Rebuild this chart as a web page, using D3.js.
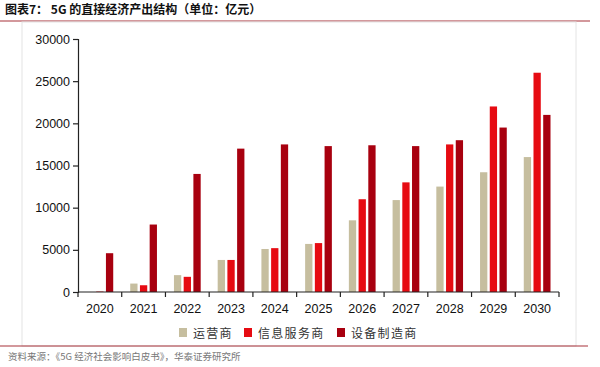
<!DOCTYPE html>
<meta charset="utf-8">
<style>
body { margin: 0; background: #fff; }
svg { display: block; font-family: 'Noto Sans', 'Noto Sans CJK SC', sans-serif; }
.axis path, .axis line { stroke: #222; stroke-width: 1.2px; }
.axis text { font-size: 12.5px; fill: #111; }
</style>
<div id="chart"></div>
<script src="https://d3js.org/d3.v7.min.js"></script>
<script>
// categories + series (unit: 亿元)
var years = ['2020', '2021', '2022', '2023', '2024', '2025', '2026', '2027', '2028', '2029', '2030']
var seriesNames = ['运营商', '信息服务商', '设备制造商']
var operators = [0, 1000, 2000, 3800, 5100, 5700, 8500, 10900, 12500, 14200, 16000]
var infoServices = [50, 800, 1800, 3800, 5200, 5800, 11000, 13000, 17500, 22000, 26000]
var equipment = [4600, 8000, 14000, 17000, 17500, 17300, 17400, 17300, 18000, 19500, 21000]
var yTicks = [0, 5000, 10000, 15000, 20000, 25000, 30000]

var colors = ['#c6be9f', '#e60b12', '#a8000f']
var seriesValues = [operators, infoServices, equipment]

var width = 600, height = 367

var svg = d3.select('#chart')
  .append('svg')
  .attr('width', width)
  .attr('height', height)

// title + frame
svg.append('text')
  .text('图表7：  5G 的直接经济产出结构（单位：亿元）')
  .attr('x', 5)
  .attr('y', 14)
  .attr('font-size', 12)
  .attr('font-weight', 'bold')
  .attr('font-family', "'Noto Sans CJK SC', sans-serif")
  .attr('fill', '#111')

svg.append('line')
  .attr('x1', 0).attr('x2', 590).attr('y1', 21).attr('y2', 21)
  .attr('stroke', '#a8323a').attr('stroke-width', 1.2)

svg.append('rect')
  .attr('x', 22).attr('y', 22).attr('width', 554).attr('height', 324)
  .attr('fill', 'none').attr('stroke', '#e4e4e4')

svg.append('line')
  .attr('x1', 0).attr('x2', 588).attr('y1', 346).attr('y2', 346)
  .attr('stroke', '#a8323a').attr('stroke-width', 1.2)

svg.append('text')
  .text('资料来源：《5G 经济社会影响白皮书》，华泰证券研究所')
  .attr('x', 8)
  .attr('y', 360)
  .attr('font-size', 9.5)
  .attr('font-family', "'Noto Sans CJK SC', sans-serif")
  .attr('fill', '#777')

var x = d3.scaleBand()
  .domain(years)
  .range([78, 559])

var x1 = d3.scaleBand()
  .domain(d3.range(seriesNames.length))
  .range([8.5, x.bandwidth() - 8.5])
  .paddingInner(0.25)

var y = d3.scaleLinear()
  .domain([0, 30000])
  .range([292, 39])

var g = svg.append('g')

seriesValues.forEach(function (vals, si) {
  g.selectAll('.bar-' + si)
    .data(vals)
    .enter()
    .append('rect')
    .attr('class', 'bar-' + si)
    .attr('x', (d, i) => x(years[i]) + x1(si))
    .attr('width', x1.bandwidth())
    .attr('y', d => y(d))
    .attr('height', d => y(0) - y(d))
    .attr('fill', colors[si])
})

var yAxis = d3.axisLeft(y).tickValues(yTicks).tickSize(5).tickPadding(3).tickFormat(d3.format('d'))
svg.append('g')
  .attr('class', 'axis y-axis')
  .attr('transform', 'translate(78,0)')
  .call(yAxis)

// x axis with ticks at band boundaries
var xAxis = d3.axisBottom(x).tickSize(0).tickPadding(12)
var xg = svg.append('g')
  .attr('class', 'axis x-axis')
  .attr('transform', 'translate(0,' + y(0) + ')')
  .call(xAxis)
xg.select('.domain').attr('d', 'M78,0H559')
xg.selectAll('.bound')
  .data(years.concat(['end']))
  .enter()
  .append('line')
  .attr('class', 'bound')
  .attr('x1', (d, i) => 78 + i * x.step())
  .attr('x2', (d, i) => 78 + i * x.step())
  .attr('y1', 0)
  .attr('y2', 5)

// legend
var legendX = [179, 244, 337]
var legend = svg.append('g')
seriesNames.forEach(function (name, i) {
  legend.append('rect')
    .attr('x', legendX[i])
    .attr('y', 328)
    .attr('width', 8)
    .attr('height', 9)
    .attr('fill', colors[i])
  legend.append('text')
    .text(name)
    .attr('x', legendX[i] + 14)
    .attr('y', 338)
    .attr('font-size', 12)
    .attr('letter-spacing', 1.3)
    .attr('font-family', "'Noto Sans CJK SC', sans-serif")
    .attr('fill', '#333')
})
</script>
